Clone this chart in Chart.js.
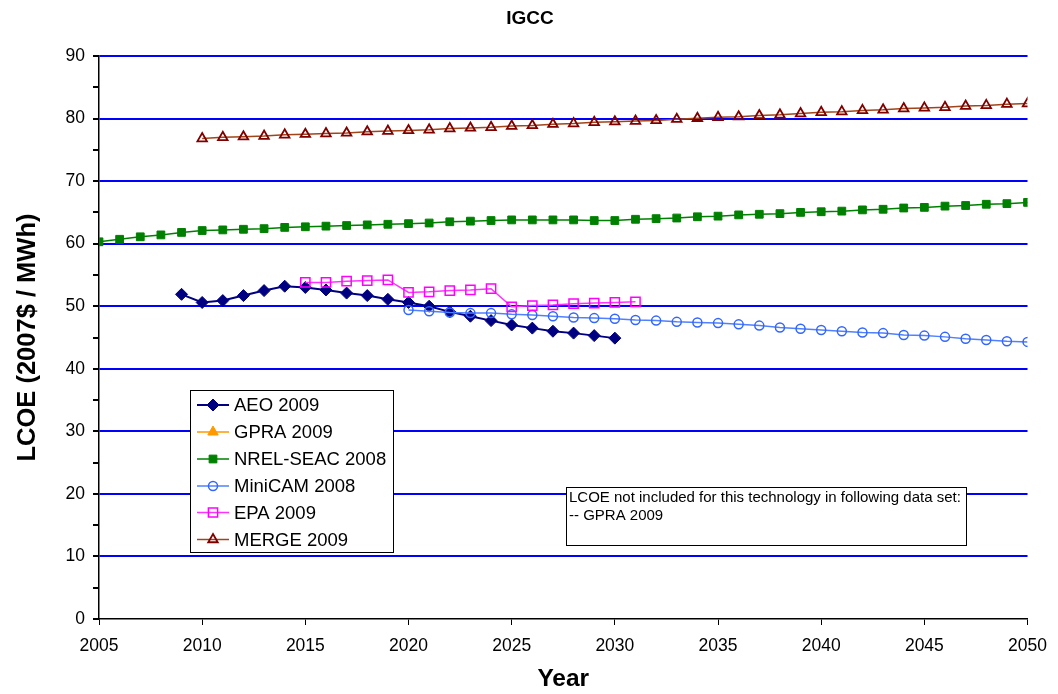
<!DOCTYPE html>
<html><head><meta charset="utf-8">
<script src="https://cdn.jsdelivr.net/npm/chart.js@4.4.1/dist/chart.umd.min.js"></script>
<style>html,body{margin:0;padding:0;background:#fff}#wrap{width:1058px;height:694px}</style>
</head><body><div id="wrap"><canvas id="c" width="1058" height="694"></canvas></div>
<script>
const aeoYears = [2009,2010,2011,2012,2013,2014,2015,2016,2017,2018,2019,2020,2021,2022,2023,2024,2025,2026,2027,2028,2029,2030];
const aeoValues = [51.9,50.6,50.9,51.7,52.5,53.2,53.0,52.6,52.1,51.7,51.1,50.6,50.0,49.1,48.4,47.7,47.0,46.5,46.0,45.7,45.3,44.9];
const gpraYears = [];
const gpraValues = [];
const nrelYears = [2005,2006,2007,2008,2009,2010,2011,2012,2013,2014,2015,2016,2017,2018,2019,2020,2021,2022,2023,2024,2025,2026,2027,2028,2029,2030,2031,2032,2033,2034,2035,2036,2037,2038,2039,2040,2041,2042,2043,2044,2045,2046,2047,2048,2049,2050];
const nrelValues = [60.3,60.7,61.1,61.4,61.8,62.1,62.2,62.3,62.4,62.6,62.7,62.8,62.9,63.0,63.1,63.2,63.3,63.5,63.6,63.7,63.8,63.8,63.8,63.8,63.7,63.7,63.9,64.0,64.1,64.3,64.4,64.6,64.7,64.8,65.0,65.1,65.2,65.4,65.5,65.7,65.8,66.0,66.1,66.3,66.4,66.6];
const miniYears = [2020,2021,2022,2023,2024,2025,2026,2027,2028,2029,2030,2031,2032,2033,2034,2035,2036,2037,2038,2039,2040,2041,2042,2043,2044,2045,2046,2047,2048,2049,2050];
const miniValues = [49.4,49.2,49.0,48.9,48.9,48.7,48.6,48.4,48.2,48.1,48.0,47.8,47.7,47.5,47.4,47.3,47.1,46.9,46.6,46.4,46.2,46.0,45.8,45.7,45.4,45.3,45.1,44.8,44.6,44.4,44.3];
const epaYears = [2015,2016,2017,2018,2019,2020,2021,2022,2023,2024,2025,2026,2027,2028,2029,2030,2031];
const epaValues = [53.8,53.8,54.0,54.1,54.2,52.2,52.3,52.5,52.6,52.8,49.9,50.1,50.2,50.4,50.5,50.6,50.7];
const mergeYears = [2010,2011,2012,2013,2014,2015,2016,2017,2018,2019,2020,2021,2022,2023,2024,2025,2026,2027,2028,2029,2030,2031,2032,2033,2034,2035,2036,2037,2038,2039,2040,2041,2042,2043,2044,2045,2046,2047,2048,2049,2050];
const mergeValues = [76.8,77.0,77.1,77.2,77.4,77.5,77.6,77.7,77.9,78.0,78.1,78.2,78.4,78.5,78.6,78.8,78.9,79.1,79.2,79.4,79.5,79.6,79.7,79.9,80.05,80.2,80.3,80.5,80.6,80.8,81.0,81.1,81.3,81.4,81.6,81.7,81.8,82.0,82.1,82.3,82.4];
const seriesNames = ['AEO 2009','GPRA 2009','NREL-SEAC 2008','MiniCAM 2008','EPA 2009','MERGE 2009'];
const xTickValues = [2005,2010,2015,2020,2025,2030,2035,2040,2045,2050];
const chartTitle = 'IGCC';
const xTitle = 'Year';
const yTitle = 'LCOE (2007$ / MWh)';
const noteLines = ['LCOE not included for this technology in following data set:','-- GPRA 2009'];

const pts = (xs, ys) => xs.map((x, i) => ({x, y: ys[i]}));
const FONT = 'Liberation Sans, Arial, sans-serif';

const datasets = [
  {label: seriesNames[0], data: pts(aeoYears, aeoValues), borderColor:'#000080', backgroundColor:'#000080', borderWidth:2,
   pointStyle:'rectRot', pointRadius:6, pointBorderColor:'#000080', pointBackgroundColor:'#000080', pointBorderWidth:1, order:5},
  {label: seriesNames[1], data: pts(gpraYears, gpraValues), borderColor:'#FF9900', backgroundColor:'#FF9900', borderWidth:1.5,
   pointStyle:'triangle', pointRadius:6, pointBorderColor:'#FF9900', pointBackgroundColor:'#FF9900', pointBorderWidth:1, order:4},
  {label: seriesNames[2], data: pts(nrelYears, nrelValues), borderColor:'#008000', backgroundColor:'#008000', borderWidth:1.5,
   pointStyle:'rect', pointRadius:5.5, pointBorderColor:'#008000', pointBackgroundColor:'#008000', pointBorderWidth:1, order:3},
  {label: seriesNames[3], data: pts(miniYears, miniValues), borderColor:'#5080FF', backgroundColor:'#5080FF', borderWidth:1.5,
   pointStyle:'circle', pointRadius:4.5, pointBorderColor:'#3366FF', pointBackgroundColor:'rgba(255,255,255,0)', pointBorderWidth:1.5, order:2},
  {label: seriesNames[4], data: pts(epaYears, epaValues), borderColor:'#FF33FF', backgroundColor:'#FF00FF', borderWidth:1.5,
   pointStyle:'rect', pointRadius:6.5, pointBorderColor:'#FF00FF', pointBackgroundColor:'rgba(255,255,255,0)', pointBorderWidth:1.5, order:1},
  {label: seriesNames[5], data: pts(mergeYears, mergeValues), borderColor:'#A0451A', backgroundColor:'#800000', borderWidth:1.5,
   pointStyle:'triangle', pointRadius:5.5, pointBorderColor:'#800000', pointBackgroundColor:'rgba(255,255,255,0)', pointBorderWidth:1.8, order:0}
];

const extras = {
  id:'extras',
  afterDraw(chart){
    const ctx = chart.ctx;
    ctx.save();
    ctx.fillStyle = '#000';
    ctx.font = 'bold 19px ' + FONT;
    ctx.textAlign = 'center'; ctx.textBaseline = 'middle';
    ctx.fillText(chartTitle, 530, 19);
    const lx = 190.5, ly = 390.5, lw = 203, lh = 162;
    ctx.fillStyle = '#fff';
    ctx.fillRect(lx, ly, lw, lh);
    ctx.strokeStyle = '#000'; ctx.lineWidth = 1;
    ctx.strokeRect(lx, ly, lw, lh);
    const rows = [405, 432, 459, 486, 512.5, 539.5];
    ctx.font = '18.5px ' + FONT;
    ctx.textAlign = 'left'; ctx.textBaseline = 'middle';
    chart.data.datasets.forEach((ds, i) => {
      const y = rows[i];
      ctx.strokeStyle = ds.borderColor; ctx.lineWidth = ds.borderWidth;
      ctx.beginPath(); ctx.moveTo(197, y); ctx.lineTo(229, y); ctx.stroke();
      ctx.lineWidth = ds.pointBorderWidth;
      ctx.strokeStyle = ds.pointBorderColor;
      ctx.fillStyle = ds.pointBackgroundColor;
      Chart.helpers.drawPoint(ctx, {pointStyle: ds.pointStyle, radius: ds.pointRadius, rotation:0, borderWidth: ds.pointBorderWidth}, 213, y);
      ctx.fillStyle = '#000';
      ctx.fillText(ds.label, 234, y + 1);
    });
    ctx.font = '15px ' + FONT;
    const tw = ctx.measureText(noteLines[0]).width;
    const bw = Math.max(284, Math.ceil(tw) + 8);
    ctx.fillStyle = '#fff';
    ctx.fillRect(566.5, 487.5, bw, 58);
    ctx.strokeStyle = '#000'; ctx.lineWidth = 1;
    ctx.strokeRect(566.5, 487.5, bw, 58);
    ctx.fillStyle = '#000';
    ctx.fillText(noteLines[0], 569, 497.5);
    ctx.fillText(noteLines[1], 569, 516);
    ctx.restore();
  }
};

new Chart(document.getElementById('c'), {
  type:'line',
  data:{datasets},
  plugins:[extras],
  options:{
    responsive:false, animation:false,
    layout:{padding:{top:56, right:25, left:0, bottom:0}},
    plugins:{legend:{display:false}, title:{display:false}, tooltip:{enabled:false}},
    elements:{line:{tension:0}},
    scales:{
      x:{type:'linear', min:2005, max:2050,
        afterBuildTicks(s){ s.ticks = xTickValues.map(v => ({value:v})); },
        afterFit(s){ s.height = 75; },
        grid:{drawOnChartArea:false, drawTicks:true, tickLength:6, tickColor:'#000', color:'#000'},
        border:{display:true, color:'#000', width:1.5},
        ticks:{color:'#000', font:{family:FONT, size:17.5}, padding:11, maxRotation:0, autoSkip:false,
          callback:(v) => String(v)},
        title:{display:true, text:xTitle, color:'#000', font:{family:FONT, size:24.5, weight:'bold'}, padding:{top:0, bottom:0}}
      },
      y:{min:0, max:90,
        ticks:{stepSize:5, color:'#000', font:{family:FONT, size:17.5}, padding:8,
          callback:(v) => (v % 10 === 0 ? String(v) : '')},
        afterFit(s){ s.width = 99; },
        grid:{drawTicks:true, tickLength:6, tickColor:'#000',
          color:(c) => (c.tick && c.tick.value % 10 === 0 && c.tick.value !== 0) ? '#0000FF' : 'rgba(0,0,0,0)',
          lineWidth:2},
        border:{display:true, color:'#000', width:1.5},
        title:{display:true, text:yTitle, color:'#000', font:{family:FONT, size:25.5, weight:'bold'}, padding:{top:13, bottom:0}}
      }
    }
  }
});
</script></body></html>
